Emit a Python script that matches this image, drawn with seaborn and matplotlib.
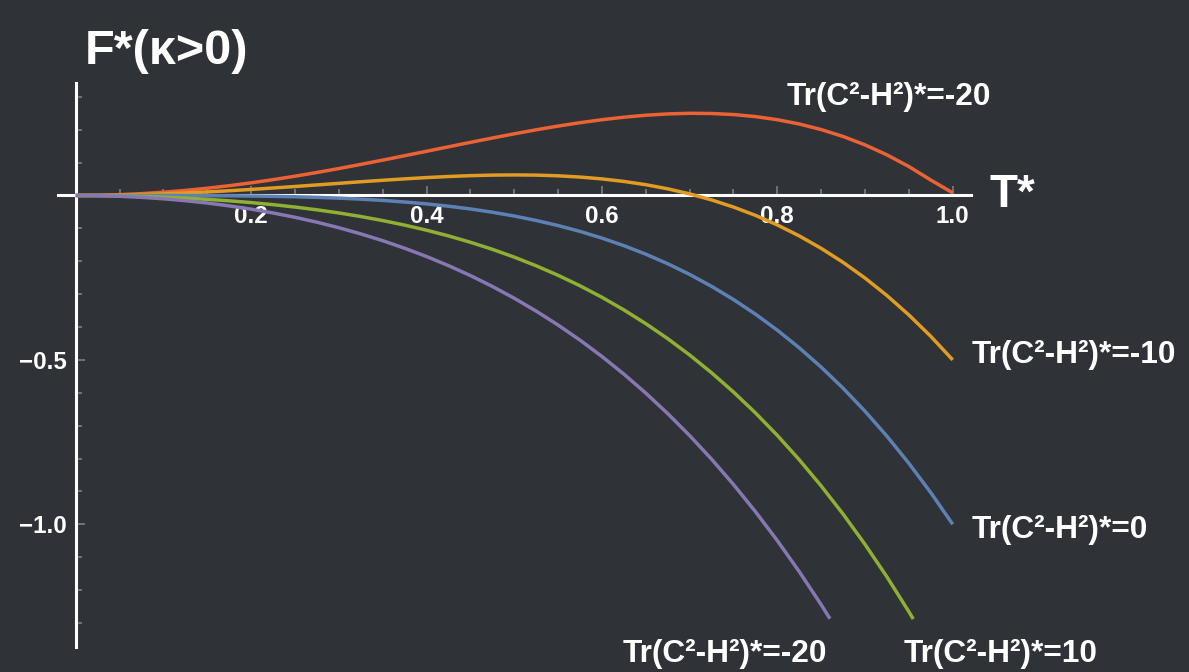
import matplotlib
matplotlib.use("Agg")
import matplotlib.pyplot as plt
import pandas as pd
import seaborn as sns
from matplotlib.ticker import FixedLocator, FixedFormatter

# ---- data -------------------------------------------------------------
TR_VALUES = [-20, -10, 0, 10, 20]
CURVE_LABELS = ["Tr(C²-H²)*=-20", "Tr(C²-H²)*=-10", "Tr(C²-H²)*=0",
                "Tr(C²-H²)*=10", "Tr(C²-H²)*=-20"]

T_STAR = [0.000, 0.025, 0.050, 0.075, 0.100, 0.125, 0.150, 0.175, 0.200,
          0.225, 0.250, 0.275, 0.300, 0.325, 0.350, 0.375, 0.400, 0.425,
          0.450, 0.475, 0.500, 0.525, 0.550, 0.575, 0.600, 0.625, 0.650,
          0.675, 0.700, 0.725, 0.750, 0.775, 0.800, 0.825, 0.850, 0.875,
          0.900, 0.925, 0.950, 0.975, 1.000]
T_STAR_TR10 = [0.000, 0.025, 0.050, 0.075, 0.100, 0.125, 0.150, 0.175, 0.200,
               0.225, 0.250, 0.275, 0.300, 0.325, 0.350, 0.375, 0.400, 0.425,
               0.450, 0.475, 0.500, 0.525, 0.550, 0.575, 0.600, 0.625, 0.650,
               0.675, 0.700, 0.725, 0.750, 0.775, 0.800, 0.825, 0.850, 0.875,
               0.900, 0.925, 0.950, 0.955]
T_STAR_TR20 = [0.000, 0.025, 0.050, 0.075, 0.100, 0.125, 0.150, 0.175, 0.200,
               0.225, 0.250, 0.275, 0.300, 0.325, 0.350, 0.375, 0.400, 0.425,
               0.450, 0.475, 0.500, 0.525, 0.550, 0.575, 0.600, 0.625, 0.650,
               0.675, 0.700, 0.725, 0.750, 0.775, 0.800, 0.825, 0.850, 0.860]

F_TR_M20 = [0.0000, 0.0006, 0.0025, 0.0056, 0.0099, 0.0154, 0.0220, 0.0297,
            0.0384, 0.0481, 0.0586, 0.0699, 0.0819, 0.0945, 0.1075, 0.1209,
            0.1344, 0.1480, 0.1615, 0.1747, 0.1875, 0.1997, 0.2110, 0.2213,
            0.2304, 0.2380, 0.2440, 0.2480, 0.2499, 0.2493, 0.2461, 0.2399,
            0.2304, 0.2174, 0.2005, 0.1794, 0.1539, 0.1235, 0.0880, 0.0469,
            0.0080]
F_TR_M10 = [0.0000, 0.0003, 0.0012, 0.0028, 0.0049, 0.0076, 0.0107, 0.0144,
            0.0184, 0.0228, 0.0273, 0.0321, 0.0369, 0.0417, 0.0462, 0.0505,
            0.0544, 0.0577, 0.0602, 0.0619, 0.0625, 0.0619, 0.0598, 0.0560,
            0.0504, 0.0427, 0.0328, 0.0202, 0.0049, -0.0135, -0.0352, -0.0604,
            -0.0896, -0.1229, -0.1608, -0.2034, -0.2511, -0.3043, -0.3633,
            -0.4284, -0.5000]
F_TR_0 = [0.0000, -0.0000, -0.0000, -0.0000, -0.0001, -0.0002, -0.0005,
          -0.0009, -0.0016, -0.0026, -0.0039, -0.0057, -0.0081, -0.0112,
          -0.0150, -0.0198, -0.0256, -0.0326, -0.0410, -0.0509, -0.0625,
          -0.0760, -0.0915, -0.1093, -0.1296, -0.1526, -0.1785, -0.2076,
          -0.2401, -0.2763, -0.3164, -0.3608, -0.4096, -0.4633, -0.5220,
          -0.5862, -0.6561, -0.7321, -0.8145, -0.9037, -1.0000]
F_TR_10 = [0.0000, -0.0003, -0.0013, -0.0028, -0.0051, -0.0081, -0.0118,
           -0.0163, -0.0216, -0.0279, -0.0352, -0.0436, -0.0531, -0.0640,
           -0.0763, -0.0901, -0.1056, -0.1229, -0.1423, -0.1637, -0.1875,
           -0.2138, -0.2428, -0.2746, -0.3096, -0.3479, -0.3898, -0.4354,
           -0.4851, -0.5391, -0.5977, -0.6611, -0.7296, -0.8036, -0.8833,
           -0.9690, -1.0611, -1.1599, -1.2658, -1.2880]
F_TR_20 = [0.0000, -0.0006, -0.0025, -0.0057, -0.0101, -0.0159, -0.0230,
           -0.0316, -0.0416, -0.0532, -0.0664, -0.0813, -0.0981, -0.1168,
           -0.1375, -0.1604, -0.1856, -0.2133, -0.2435, -0.2765, -0.3125,
           -0.3516, -0.3940, -0.4399, -0.4896, -0.5432, -0.6010, -0.6632,
           -0.7301, -0.8019, -0.8789, -0.9614, -1.0496, -1.1439, -1.2445,
           -1.2870]

X_TICKS = [0.2, 0.4, 0.6, 0.8, 1.0]
X_TICK_LABELS = ["0.2", "0.4", "0.6", "0.8", "1.0"]
Y_TICKS = [-1.0, -0.5]
Y_TICK_LABELS = ["\u22121.0", "\u22120.5"]

# ---- long-form table for seaborn -------------------------------------
series_t = [T_STAR, T_STAR, T_STAR, T_STAR_TR10, T_STAR_TR20]
series_f = [F_TR_M20, F_TR_M10, F_TR_0, F_TR_10, F_TR_20]
frames = [pd.DataFrame({"T": t, "F": f, "tr": tr})
          for t, f, tr in zip(series_t, series_f, TR_VALUES)]
df = pd.concat(frames, ignore_index=True)

COLORS = {-20: "#EB6235", -10: "#E19C24", 0: "#5E81B5",
          10: "#8FB032", 20: "#8778B3"}

# ---- style ------------------------------------------------------------
BG = "#2F3236"
sns.set_theme(style="dark")
plt.rcParams["font.family"] = ["Liberation Sans", "DejaVu Sans"]
plt.rcParams["font.weight"] = "bold"
plt.rcParams["figure.facecolor"] = BG
plt.rcParams["axes.facecolor"] = BG

fig = plt.figure(figsize=(11.89, 6.72), dpi=100)
ax = fig.add_axes([0.04853, 0.03676, 0.7681, 0.8402])
ax.set_facecolor(BG)

sns.lineplot(data=df, x="T", y="F", hue="tr", palette=COLORS,
             hue_order=TR_VALUES, units="tr", estimator=None, sort=False,
             legend=False, linewidth=2.5, ax=ax, zorder=3)
for line in ax.get_lines():
    line.set_solid_capstyle("butt")
    line.set_solid_joinstyle("round")

ax.set_xlim(-0.0206, 1.0208)
ax.set_ylim(-1.374, 0.343)
ax.set_xlabel("")
ax.set_ylabel("")
ax.grid(False)

# Axes crossing at the origin
for side in ("top", "right"):
    ax.spines[side].set_visible(False)
for side in ("left", "bottom"):
    ax.spines[side].set_visible(True)
    ax.spines[side].set_position(("data", 0))
    ax.spines[side].set_color("white")
    ax.spines[side].set_linewidth(2.2)

ax.xaxis.set_major_locator(FixedLocator(X_TICKS))
ax.xaxis.set_major_formatter(FixedFormatter(X_TICK_LABELS))
ax.xaxis.set_minor_locator(FixedLocator(
    [k * 0.05 for k in range(1, 20) if k % 4 != 0]))
ax.yaxis.set_major_locator(FixedLocator(Y_TICKS))
ax.yaxis.set_major_formatter(FixedFormatter(Y_TICK_LABELS))
ax.yaxis.set_minor_locator(FixedLocator(
    [k * 0.1 for k in range(-13, 4) if k not in (0, -5, -10)]))

ax.tick_params(axis="both", which="both", direction="in", color="#858585",
               width=1.1, labelcolor="white", labelsize=17.4, bottom=True,
               left=True)
ax.tick_params(axis="both", which="major", length=6.5)
ax.tick_params(axis="both", which="minor", length=4)
ax.tick_params(axis="x", which="major", pad=7)
ax.tick_params(axis="y", which="major", pad=6.5)
for lab in ax.get_xticklabels() + ax.get_yticklabels():
    lab.set_fontweight("bold")

# Axis titles
ax.text(0.0105, 0.438, "F*(\u03ba>0)", color="white", fontsize=35,
        fontweight="bold", ha="left", va="center", clip_on=False)
ax.text(1.0424, 0.0, "T*", color="white", fontsize=33, fontweight="bold",
        ha="left", va="center", clip_on=False)

# Curve labels
label_pos = [(0.811, 0.300), (1.0216, -0.486), (1.0216, -1.017),
             (0.9436, -1.394), (0.624, -1.394)]
for (x, y), text in zip(label_pos, CURVE_LABELS):
    ax.text(x, y, text, color="white", fontsize=22.8, fontweight="bold",
            ha="left", va="center", clip_on=False)

fig.savefig("out.png", dpi=100, facecolor=BG)
